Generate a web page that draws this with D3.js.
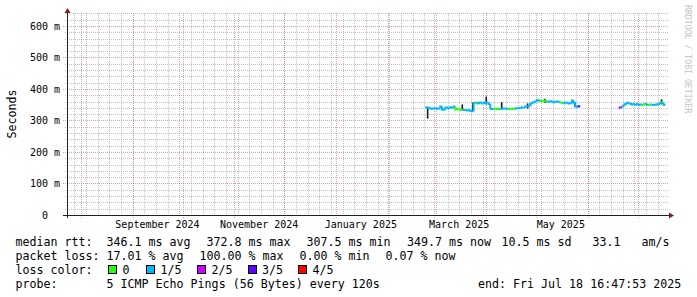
<!DOCTYPE html>
<html><head><meta charset="utf-8">
<script src="https://cdn.jsdelivr.net/npm/d3@7"></script>
<style>
html,body{margin:0;padding:0;background:#fff;}
svg{display:block;}
text{font-family:"DejaVu Sans Mono",monospace;fill:#000;white-space:pre;}
</style></head><body>
<svg id="chart" width="697" height="297"></svg>
<script>
// ---------------- data ----------------
const endTime = new Date(2025, 6, 18, 16, 47, 53);
const spanDays = 360;
const yMax = 641;                       // ms
const yTickValues = [0, 100, 200, 300, 400, 500, 600];
const yTickLabels = ["0", "100 m", "200 m", "300 m", "400 m", "500 m", "600 m"];
const yTitle = "Seconds";
const sideNote = "RRDTOOL / TOBI OETIKER";

const lossLabels = ["0", "1/5", "2/5", "3/5", "4/5"];
const lossColors = ["#26ff00", "#00b8ff", "#cc00ff", "#5e00ff", "#ff0000"];

// segment 1: one median value (ms) per day, loss level index per day
const seg1Start = "2025-02-23T16:00";
const seg1Median = [342,341,340,338,337,338,339,337,338,344,
                    335,334,340,341,339,342,340,344,335,336,
                    335,334,334,333,333,332,333,330,329,355,
                    356,354,355,357,354,356,355,357,352,337,
                    336,336,337,336,337,336,337,338,338,337,
                    336,337,336,337,338,339,339,340,341,341,
                    344,345,346,352,356,358,360,365,363,362,
                    361,363,362,360,359,361,360,358,359,360,
                    359,357,356,355,357,356,354,355,363,356,
                    344,343,345];
const seg1Loss = [1,1,1,1,1,1,1,1,1,1,
                  1,1,1,1,1,1,1,1,0,0,
                  0,0,1,1,1,1,1,1,1,1,
                  1,0,1,1,1,1,1,1,1,1,
                  1,0,0,0,0,1,1,1,1,1,
                  0,0,0,0,1,1,1,1,1,1,
                  1,1,1,1,1,1,1,1,1,0,
                  0,0,0,1,1,1,1,1,1,1,
                  1,0,0,1,1,1,1,1,1,1,
                  1,1,3];
// segment 2
const seg2Start = "2025-06-19T16:00";
const seg2Median = [340,341,344,348,352,356,355,353,351,352,
                    350,352,349,351,350,351,352,350,349,351,
                    350,349,350,351,352,356,357,349];
const seg2Loss = [2,2,1,1,1,1,1,1,1,1,
                  1,1,1,1,0,0,1,1,0,0,
                  1,1,1,1,1,1,0,1];

// dark smoke spikes (ms)
const smokeTimes = ["2025-02-25T02:00","2025-03-17T21:00","2025-03-24T05:00","2025-03-27T11:00",
                    "2025-04-01T06:00","2025-04-10T12:00","2025-04-26T02:00","2025-05-06T11:00",
                    "2025-05-24T11:00","2025-07-15T11:00"];
const smokeLow  = [306,333,329,352,351,335,338,356,344,351];
const smokeHigh = [341,351,357,359,376,358,354,369,358,367];

// legend texts
const rttLine = ["median rtt:", "346.1 ms avg", "372.8 ms max", "307.5 ms min", "349.7 ms now", "10.5 ms sd", "33.1", "am/s"];
const lossLine = ["packet loss:", "17.01 % avg", "100.00 % max", "0.00 % min", "0.07 % now"];
const lossColorTitle = "loss color:";
const probeLine = ["probe:", "5 ICMP Echo Pings (56 Bytes) every 120s", "end: Fri Jul 18 16:47:53 2025"];

// ---------------- layout ----------------
const W = 697, H = 297;
const plot = {left: 67, right: 667, top: 13, bottom: 215};
const rttX = [15.5, 106.5, 206.5, 306.5, 407, 501.5, 592.5, 641.5];
const lossX = [15.5, 106.5, 199.5, 299.5, 385.5];
const boxX = [108, 146, 197, 247.5, 298];
const probeX = [15.5, 106.5, 478];
const rowY = [245.5, 259.5, 273.5, 287.5];
const legendFont = "11.65px", axisFont = "10px";

const svg = d3.select("#chart");
svg.append("rect").attr("width", W).attr("height", H).attr("fill", "#fff");

const startTime = d3.timeDay.offset(endTime, -spanDays);
const x = d3.scaleTime().domain([startTime, endTime]).range([plot.left, plot.right]);
const y = d3.scaleLinear().domain([0, yMax]).range([plot.bottom, plot.top]);
const px = v => Math.round(v) + 0.5;

const gridMinor = "rgba(143,143,143,0.55)";
const gridMajor = "rgba(222,79,79,0.55)";
const axisCol = "#1f1f1f", arrowCol = "#801f1f";

const grid = svg.append("g").attr("shape-rendering", "crispEdges")
  .attr("stroke-width", 1).attr("stroke-dasharray", "1,1").attr("fill", "none");

// horizontal minor (20 ms) and major (100 ms)
const minorY = y.ticks(32).filter(v => v > 0 && v % 100 !== 0);
grid.selectAll(".hmin").data(minorY).enter().append("line")
  .attr("x1", plot.left - 2).attr("x2", plot.right + 2)
  .attr("y1", d => px(y(d))).attr("y2", d => px(y(d)))
  .attr("stroke", gridMinor);
// vertical minor (weeks)
const weeks = d3.timeSunday.range(startTime, endTime);
grid.selectAll(".vmin").data(weeks).enter().append("line")
  .attr("x1", d => px(x(d))).attr("x2", d => px(x(d)))
  .attr("y1", plot.top).attr("y2", plot.bottom + 2)
  .attr("stroke", gridMinor);
// vertical major (months)
const months = d3.timeMonth.range(startTime, endTime);
grid.selectAll(".vmaj").data(months).enter().append("line")
  .attr("x1", d => px(x(d))).attr("x2", d => px(x(d)))
  .attr("y1", plot.top).attr("y2", plot.bottom + 3)
  .attr("stroke", gridMajor);
const majorY = yTickValues.filter(v => v > 0);
grid.selectAll(".hmaj").data(majorY).enter().append("line")
  .attr("x1", plot.left - 4).attr("x2", plot.right + 2)
  .attr("y1", d => px(y(d))).attr("y2", d => px(y(d)))
  .attr("stroke", gridMajor);

// smoke
const smoke = smokeTimes.map((t, i) => ({t: new Date(t), lo: smokeLow[i], hi: smokeHigh[i]}));
svg.append("g").selectAll("line").data(smoke).enter().append("line")
  .attr("x1", d => x(d.t)).attr("x2", d => x(d.t))
  .attr("y1", d => y(d.lo)).attr("y2", d => y(d.hi))
  .attr("stroke", "#1a1a1a").attr("stroke-width", 1.6);

// median lines colored by loss
const lineGen = d3.line().x(d => x(d[0])).y(d => y(d[1]));
function drawSeg(startStr, med, loss) {
  const s = new Date(startStr);
  const t = i => d3.timeHour.offset(s, 24 * i);
  const g = svg.append("g").attr("fill", "none").attr("stroke-width", 2).attr("stroke-linejoin", "miter");
  med.forEach((v, i) => {
    const pts = [];
    if (i > 0) pts.push([t(i), med[i - 1]]);
    pts.push([t(i), v]);
    pts.push([t(i + 1), v]);
    g.append("path").attr("d", lineGen(pts)).attr("stroke", lossColors[loss[i]]);
  });
}
drawSeg(seg1Start, seg1Median, seg1Loss);
drawSeg(seg2Start, seg2Median, seg2Loss);

// axes
const ax = svg.append("g").attr("shape-rendering", "crispEdges");
ax.append("line").attr("x1", px(plot.left)).attr("x2", px(plot.left))
  .attr("y1", plot.bottom + 3).attr("y2", plot.top - 4).attr("stroke", axisCol);
ax.append("line").attr("x1", plot.left - 4).attr("x2", plot.right + 3)
  .attr("y1", px(plot.bottom)).attr("y2", px(plot.bottom)).attr("stroke", axisCol);
svg.append("path")
  .attr("d", `M${plot.left - 2.5},${plot.top} L${plot.left + 3.5},${plot.top} L${plot.left + 0.5},${plot.top - 5} Z`)
  .attr("fill", arrowCol);
svg.append("path")
  .attr("d", `M${plot.right + 2},${plot.bottom - 2.5} L${plot.right + 2},${plot.bottom + 3.5} L${plot.right + 7},${plot.bottom + 0.5} Z`)
  .attr("fill", arrowCol);

// y tick labels
svg.append("g").selectAll("text").data(yTickValues).enter().append("text")
  .attr("x", (d, i) => yTickLabels[i] === "0" ? 48 : 60)
  .attr("y", d => y(d) + 3.6)
  .attr("text-anchor", "end").style("font-size", axisFont)
  .text((d, i) => yTickLabels[i]);

// x tick labels (every 2 months, centred in the month)
const fmt = d3.timeFormat("%B %Y");
const labelMonths = d3.timeMonth.every(2).range(startTime, endTime)
  .filter(m => d3.timeMonth.offset(m, 1) <= endTime);
svg.append("g").selectAll("text").data(labelMonths).enter().append("text")
  .attr("x", d => x(d3.timeDay.offset(d, 15)))
  .attr("y", 228).attr("text-anchor", "middle").style("font-size", axisFont)
  .text(d => fmt(d));

// y title
svg.append("text").attr("transform", "translate(15.5,114) rotate(-90)")
  .attr("text-anchor", "middle").style("font-size", legendFont).text(yTitle);
// side note
svg.append("text").attr("transform", "translate(684.5,5) rotate(90)")
  .attr("text-anchor", "start").style("font-size", "8.2px").style("fill", "#c4c4c4").text(sideNote);

// legend
const lg = svg.append("g").style("font-size", legendFont);
rttLine.forEach((s, i) => lg.append("text").attr("x", rttX[i]).attr("y", rowY[0]).text(s));
lossLine.forEach((s, i) => lg.append("text").attr("x", lossX[i]).attr("y", rowY[1]).text(s));
lg.append("text").attr("x", 15.5).attr("y", rowY[2]).text(lossColorTitle);
lossLabels.forEach((s, i) => {
  lg.append("rect").attr("x", boxX[i] + 0.5).attr("y", rowY[2] - 8).attr("width", 8).attr("height", 8)
    .attr("fill", lossColors[i]).attr("stroke", "#000").attr("stroke-width", 1)
    .attr("shape-rendering", "crispEdges");
  lg.append("text").attr("x", boxX[i] + 14.5).attr("y", rowY[2]).text(s);
});
probeLine.forEach((s, i) => lg.append("text").attr("x", probeX[i]).attr("y", rowY[3]).text(s));
</script>
</body></html>
